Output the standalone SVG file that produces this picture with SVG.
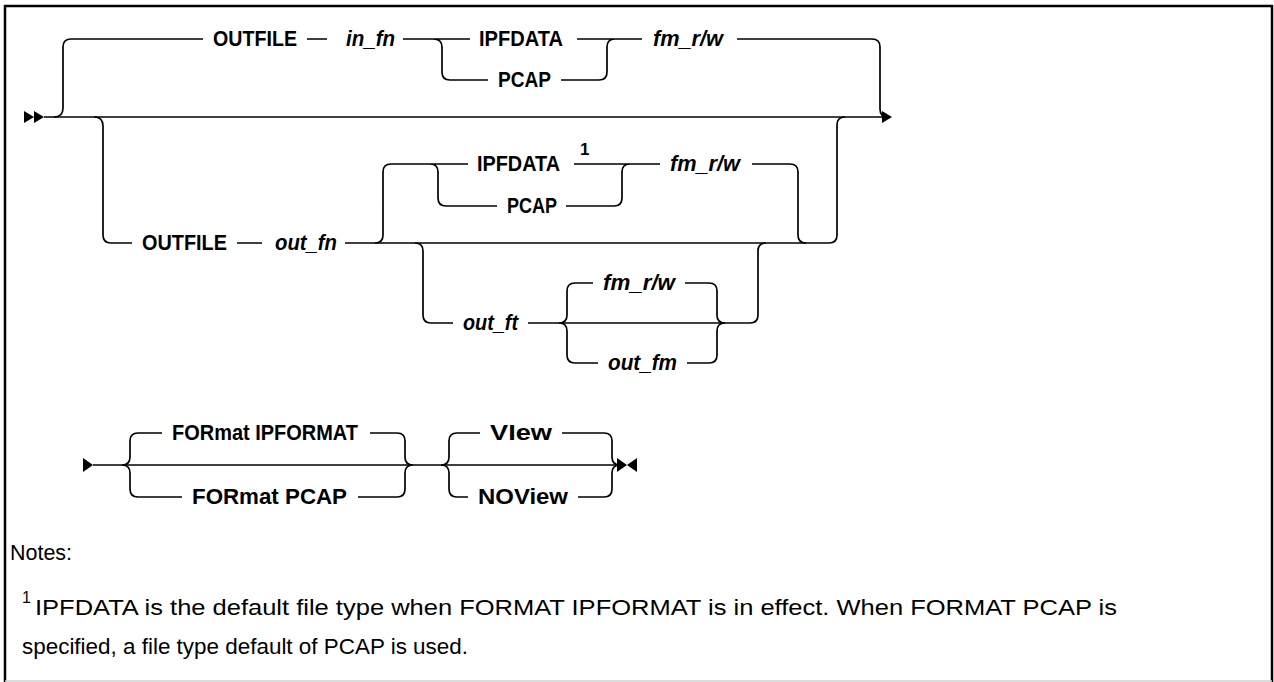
<svg xmlns="http://www.w3.org/2000/svg" width="1274" height="682" viewBox="0 0 1274 682">
<style>
.ln{fill:none;stroke:#000;stroke-width:1.7}
.lb{font-family:"Liberation Sans",Arial,sans-serif;font-size:22px;font-weight:bold;fill:#000}
.it{font-style:italic}
.nt{font-family:"Liberation Sans",Arial,sans-serif;font-size:22px;fill:#000}
.ah{fill:#000}
</style>
<rect width="1274" height="682" fill="#fff"/>
<path d="M5 682 V6 H1272 V682" fill="none" stroke="#000" stroke-width="2.5"/>
<line x1="5" y1="681" x2="1272" y2="681" stroke="#d0d0d0" stroke-width="1.5"/>
<g id="connectors">
<path class="ah" d="M24 111 L34 117 L24 123 Z M34 111 L44 117 L34 123 Z"/>
<path class="ln" d="M44 117 H884"/>
<path class="ah" d="M882 111 L892 117 L882 123 Z"/>
<path class="ln" d="M54 117 Q63 117 63 108 V47 Q63 39 71 39 H203 M307 39 H327 M403 39 H470 M433 39 Q442 39 442 47 V72 Q442 80 450 80 H488 M561 80 H599 Q607 80 607 72 V47 Q607 39 615 39 M577 39 H642 M737 39 H872 Q880 39 880 47 V109 Q880 117 888 117"/>
<path class="ln" d="M94 117 Q103 117 103 126 V235 Q103 243 111 243 H132 M237 243 H262 M345 243 H829 Q837 243 837 235 V125 Q837 117 845 117"/>
<path class="ln" d="M375 243 Q383 243 383 235 V172 Q383 164 391 164 H468 M430 164 Q438 164 438 172 V198 Q438 206 446 206 H497 M566 206 H614 Q622 206 622 198 V172 Q622 164 630 164 M574 164 H660 M752 164 H790 Q798 164 798 172 V235 Q798 243 806 243"/>
<path class="ln" d="M415 243 Q423 243 423 251 V315 Q423 323 431 323 H453 M528 323 H750 Q758 323 758 315 V251 Q758 243 766 243"/>
<path class="ln" d="M559 323 Q567 323 567 315 V291 Q567 283 575 283 H593 M559 323 Q567 323 567 331 V355 Q567 363 575 363 H598 M685 283 H709 Q717 283 717 291 V315 Q717 323 725 323 M687 363 H709 Q717 363 717 355 V331 Q717 323 725 323"/>
<path class="ah" d="M83 458 L93 465 L83 472 Z"/>
<path class="ln" d="M93 465 H620"/>
<path class="ln" d="M122 465 Q130 465 130 457 V441 Q130 433 138 433 H162 M122 465 Q130 465 130 473 V489 Q130 497 138 497 H182 M370 433 H397 Q405 433 405 441 V457 Q405 465 413 465 M358 497 H397 Q405 497 405 489 V473 Q405 465 413 465"/>
<path class="ln" d="M441 465 Q449 465 449 457 V441 Q449 433 457 433 H480 M441 465 Q449 465 449 473 V489 Q449 497 457 497 H468 M562 433 H604 Q612 433 612 441 V457 Q612 465 620 465 M578 497 H604 Q612 497 612 489 V473 Q612 465 620 465"/>
<path class="ah" d="M617 458 L627 465 L617 472 Z M637 458 L627 465 L637 472 Z"/>
</g>
<g id="n-outfile1"><text class="lb" x="213" y="46" textLength="84" lengthAdjust="spacingAndGlyphs">OUTFILE</text></g>
<g id="n-in_fn"><text class="lb it" x="346" y="46" textLength="49" lengthAdjust="spacingAndGlyphs">in_fn</text></g>
<g id="n-ipfdata1"><text class="lb" x="479" y="46" textLength="84" lengthAdjust="spacingAndGlyphs">IPFDATA</text></g>
<g id="n-pcap1"><text class="lb" x="498" y="87" textLength="53" lengthAdjust="spacingAndGlyphs">PCAP</text></g>
<g id="n-fmrw1"><text class="lb it" x="653" y="46" textLength="70" lengthAdjust="spacingAndGlyphs">fm_r/w</text></g>
<g id="n-outfile2"><text class="lb" x="142" y="250" textLength="85" lengthAdjust="spacingAndGlyphs">OUTFILE</text></g>
<g id="n-out_fn"><text class="lb it" x="275" y="250" textLength="62" lengthAdjust="spacingAndGlyphs">out_fn</text></g>
<g id="n-ipfdata2"><text class="lb" x="477" y="171" textLength="83" lengthAdjust="spacingAndGlyphs">IPFDATA</text><text class="lb" x="580" y="155" style="font-size:17px">1</text></g>
<g id="n-pcap2"><text class="lb" x="507" y="213" textLength="50" lengthAdjust="spacingAndGlyphs">PCAP</text></g>
<g id="n-fmrw2"><text class="lb it" x="670" y="171" textLength="70" lengthAdjust="spacingAndGlyphs">fm_r/w</text></g>
<g id="n-out_ft"><text class="lb it" x="463" y="330" textLength="55" lengthAdjust="spacingAndGlyphs">out_ft</text></g>
<g id="n-fmrw3"><text class="lb it" x="603" y="290" textLength="72" lengthAdjust="spacingAndGlyphs">fm_r/w</text></g>
<g id="n-out_fm"><text class="lb it" x="608" y="370" textLength="69" lengthAdjust="spacingAndGlyphs">out_fm</text></g>
<g id="n-fmt-ipformat"><text class="lb" x="172" y="440" textLength="186" lengthAdjust="spacingAndGlyphs">FORmat IPFORMAT</text></g>
<g id="n-fmt-pcap"><text class="lb" x="192" y="504" textLength="155" lengthAdjust="spacingAndGlyphs">FORmat PCAP</text></g>
<g id="n-view"><text class="lb" x="490" y="440" textLength="62" lengthAdjust="spacingAndGlyphs">VIew</text></g>
<g id="n-noview"><text class="lb" x="478" y="504" textLength="90" lengthAdjust="spacingAndGlyphs">NOView</text></g>
<g id="notes">
<text class="nt" x="10" y="560" textLength="62" lengthAdjust="spacingAndGlyphs">Notes:</text>
<text class="nt" x="22" y="603" style="font-size:16px">1</text>
<text class="nt" x="35" y="615" textLength="1082" lengthAdjust="spacingAndGlyphs">IPFDATA is the default file type when FORMAT IPFORMAT is in effect. When FORMAT PCAP is</text>
<text class="nt" x="22" y="654" textLength="446" lengthAdjust="spacingAndGlyphs">specified, a file type default of PCAP is used.</text>
</g>
</svg>
